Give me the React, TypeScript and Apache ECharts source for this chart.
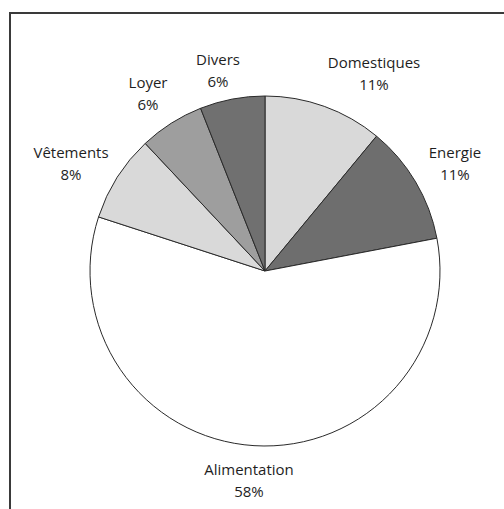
import React, { useEffect, useRef } from "react";
import * as echarts from "echarts";

const categories = ["Domestiques", "Energie", "Alimentation", "Vêtements", "Loyer", "Divers"];
const values = [11, 11, 58, 8, 6, 6];
const sliceColors = ["#d9d9d9", "#6e6e6e", "#ffffff", "#d9d9d9", "#9e9e9e", "#707070"];
const labelCenters: [number, number][] = [
  [374, 73],
  [455, 163],
  [249, 480],
  [71, 163],
  [148, 93],
  [218, 70],
];

export default function App() {
  const ref = useRef<HTMLDivElement>(null);
  useEffect(() => {
    if (!ref.current) return;
    const chart = echarts.init(ref.current, null, { renderer: "svg" });
    chart.setOption({
      animation: false,
      backgroundColor: "#ffffff",
      graphic: [
        {
          type: "rect",
          shape: { x: 10, y: 13, width: 520, height: 520 },
          style: { fill: "none", stroke: "#3a3a3a", lineWidth: 2 },
          silent: true,
        },
      ],
      series: [
        {
          type: "pie",
          center: [265, 271],
          radius: 175,
          startAngle: 90,
          clockwise: true,
          data: categories.map((name, i) => ({
            name,
            value: values[i],
            itemStyle: { color: sliceColors[i] },
          })),
          itemStyle: { borderColor: "#2a2a2a", borderWidth: 1 },
          label: {
            show: true,
            position: "outside",
            formatter: "{b}\n{c}%",
            fontFamily: "Open Sans",
            fontSize: 15,
            lineHeight: 22,
            color: "#1e1e1e",
            align: "center",
            overflow: "none",
            edgeDistance: 0,
          },
          labelLine: { show: false },
          labelLayout: (params: any) => {
            const p = labelCenters[params.dataIndex];
            return {
              x: p[0],
              y: p[1],
              align: "center",
              verticalAlign: "middle",
              width: 200,
            };
          },
          emphasis: { disabled: true },
        },
      ],
    });
    return () => chart.dispose();
  }, []);
  return (
    <div
      ref={ref}
      style={{ position: "fixed", left: 0, top: 0, width: 504, height: 509 }}
    />
  );
}
